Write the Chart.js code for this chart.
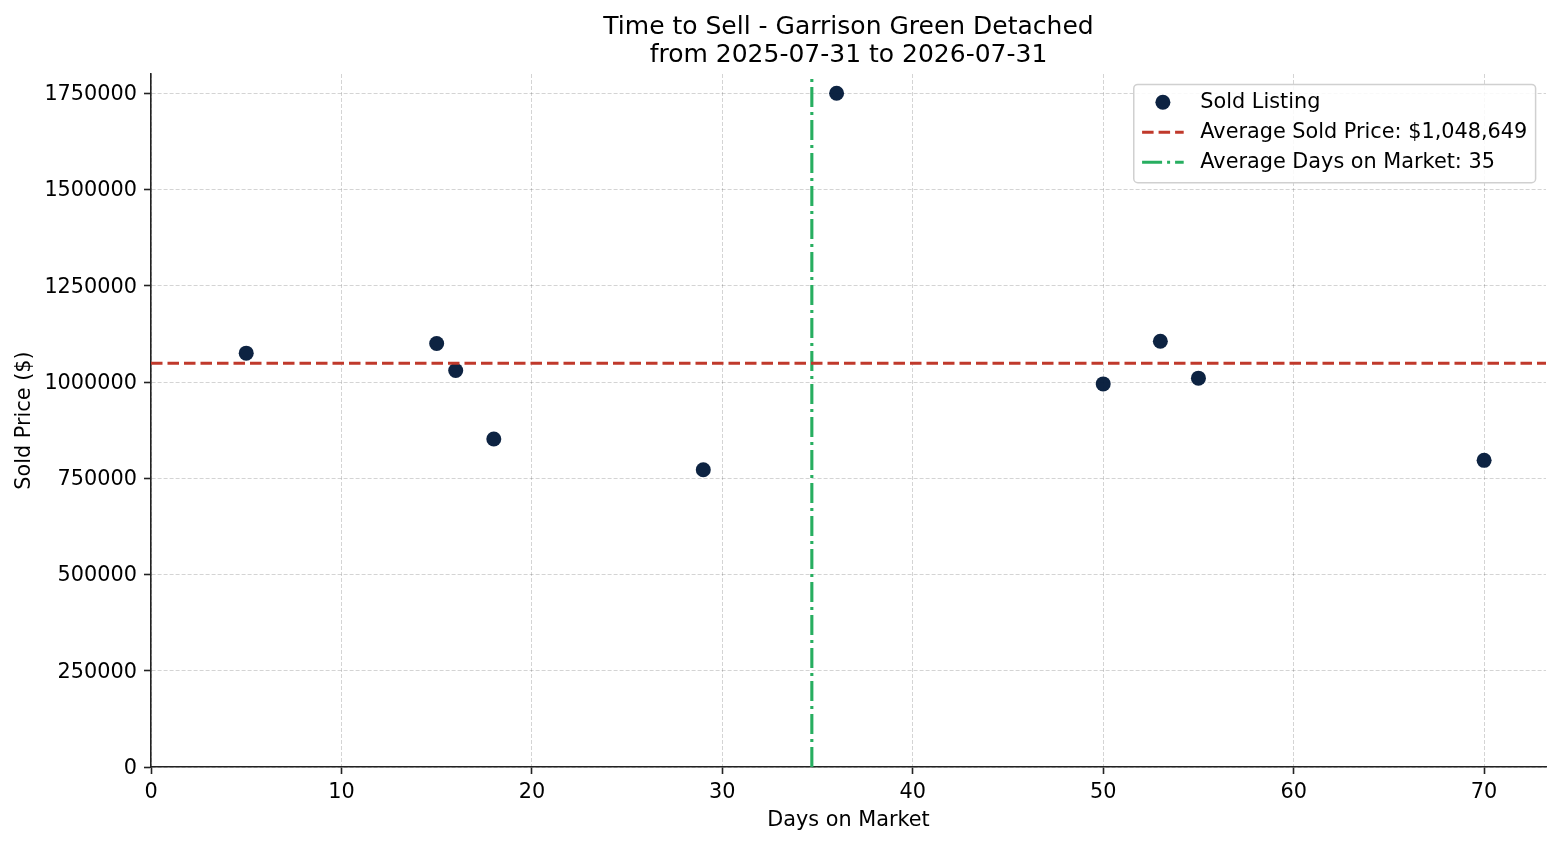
<!DOCTYPE html>
<html>
<head>
<meta charset="utf-8">
<title>Time to Sell</title>
<script src="https://cdn.jsdelivr.net/npm/chart.js@4.4.1/dist/chart.umd.min.js"></script>
<style>
    html, body { margin: 0; padding: 0; background: #fff; }
    #wrap { width: 1560px; height: 845px; }
</style>
</head>
<body>
<div id="wrap"><canvas id="sellChart"></canvas></div>
<script>
// Sold listings
const daysOnMarket = [5, 15, 16, 18, 29, 36, 50, 53, 55, 70];
const soldPrices = [1075000, 1100000, 1030000, 852000, 772000, 1750000, 995000, 1106000, 1010000, 796490];

const avgSoldPrice = 1048649;
const avgDays = 34.7;

const xTicks = [0, 10, 20, 30, 40, 50, 60, 70];
const yTicks = [0, 250000, 500000, 750000, 1000000, 1250000, 1500000, 1750000];

const titleLines = ['Time to Sell - Garrison Green Detached', 'from 2025-07-31 to 2026-07-31'];
const legendLabels = ['Sold Listing', 'Average Sold Price: $1,048,649', 'Average Days on Market: 35'];

const xMax = 73.25;
const yMax = 1800000;

const FONT = "'DejaVu Sans', Verdana, sans-serif";
const dotColor = 'rgba(3, 26, 58, 0.96)';
const redColor = '#c0392b';
const greenColor = '#27ae60';
const redDash = [11.5, 5];
const greenDash = [20, 5, 3, 5];

const points = daysOnMarket.map((d, i) => ({ x: d, y: soldPrices[i] }));

// matplotlib-style legend box inside the top right of the plot
const boxLegend = {
    id: 'boxLegend',
    afterDraw(chart) {
        const { ctx, chartArea } = chart;
        const fs = 20.8;
        ctx.save();
        ctx.font = `${fs}px ${FONT}`;
        const textW = Math.max(...legendLabels.map(t => ctx.measureText(t).width));
        const pad = 0.4 * fs, handleLen = 2 * fs, textPad = 0.8 * fs, rowH = 30;
        const w = pad + handleLen + textPad + textW + pad;
        const h = pad * 2 + rowH * legendLabels.length - 10.4 + 2;
        const right = chartArea.right - 0.5 * fs;
        const left = right - w;
        const top = chartArea.top + 0.5 * fs;

        ctx.beginPath();
        ctx.roundRect(left, top, w, h, 4);
        ctx.fillStyle = 'rgba(255,255,255,0.85)';
        ctx.fill();
        ctx.lineWidth = 1.5;
        ctx.strokeStyle = '#d0d0d0';
        ctx.stroke();

        legendLabels.forEach((label, i) => {
            const cy = top + pad + 9.5 + i * rowH;
            const hx = left + pad;
            if (i === 0) {
                ctx.beginPath();
                ctx.arc(hx + handleLen / 2, cy, 7.5, 0, Math.PI * 2);
                ctx.fillStyle = dotColor;
                ctx.fill();
            } else {
                ctx.beginPath();
                ctx.setLineDash(i === 1 ? redDash : greenDash);
                ctx.lineWidth = 3.1;
                ctx.strokeStyle = i === 1 ? redColor : greenColor;
                ctx.moveTo(hx, cy);
                ctx.lineTo(hx + handleLen, cy);
                ctx.stroke();
                ctx.setLineDash([]);
            }
            ctx.fillStyle = '#000';
            ctx.textBaseline = 'middle';
            ctx.textAlign = 'left';
            ctx.fillText(label, hx + handleLen + textPad, cy);
        });
        ctx.restore();
    }
};

const gridStyle = {
    color: 'rgba(0,0,0,0.17)',
    lineWidth: 1,
    tickColor: '#222',
    tickLength: 7,
    tickWidth: 1.6,
    tickBorderDash: []
};

const ctx = document.getElementById('sellChart').getContext('2d');
new Chart(ctx, {
    type: 'scatter',
    data: {
        datasets: [
            {
                label: legendLabels[0],
                data: points,
                backgroundColor: dotColor,
                borderColor: dotColor,
                borderWidth: 0,
                pointRadius: 7.5,
                pointHoverRadius: 7.5,
                order: 3
            },
            {
                label: legendLabels[1],
                type: 'line',
                data: [{ x: 0, y: avgSoldPrice }, { x: xMax, y: avgSoldPrice }],
                borderColor: redColor,
                borderWidth: 3.1,
                borderDash: redDash,
                pointRadius: 0,
                fill: false,
                order: 1
            },
            {
                label: legendLabels[2],
                type: 'line',
                data: [{ x: avgDays, y: 0 }, { x: avgDays, y: yMax }],
                borderColor: greenColor,
                borderWidth: 3.1,
                borderDash: greenDash,
                pointRadius: 0,
                fill: false,
                order: 2
            }
        ]
    },
    options: {
        responsive: true,
        maintainAspectRatio: false,
        animation: false,
        layout: { padding: { left: 0, right: 14, top: 0, bottom: 0 } },
        scales: {
            x: {
                type: 'linear',
                min: 0,
                max: xMax,
                afterBuildTicks(scale) { scale.ticks = xTicks.map(v => ({ value: v })); },
                ticks: {
                    color: '#000',
                    padding: 6,
                    font: { family: FONT, size: 20.8 }
                },
                grid: gridStyle,
                border: { display: true, color: '#222', width: 1.6, dash: [4, 2] },
                title: {
                    display: true,
                    text: 'Days on Market',
                    color: '#000',
                    font: { family: FONT, size: 20.8 },
                    padding: { top: 0, bottom: 12 }
                },
                afterFit(scale) { scale.height = 78; }
            },
            y: {
                type: 'linear',
                min: 0,
                max: yMax,
                afterBuildTicks(scale) { scale.ticks = yTicks.map(v => ({ value: v })); },
                ticks: {
                    color: '#000',
                    padding: 7,
                    labelOffset: 1.5,
                    font: { family: FONT, size: 20.8 },
                    callback: v => String(v)
                },
                grid: gridStyle,
                border: { display: true, color: '#222', width: 1.6, dash: [4, 2] },
                title: {
                    display: true,
                    text: 'Sold Price ($)',
                    color: '#000',
                    font: { family: FONT, size: 20.8 },
                    padding: { top: 12.5, bottom: 0 }
                },
                afterFit(scale) { scale.width = 151; }
            }
        },
        plugins: {
            legend: { display: false },
            tooltip: { enabled: false },
            title: {
                display: true,
                fullSize: false,
                text: titleLines,
                color: '#000',
                font: { family: FONT, size: 25, weight: 'normal', lineHeight: 1.12 },
                padding: { top: 13, bottom: 5 }
            }
        }
    },
    plugins: [boxLegend]
});
</script>
</body>
</html>
